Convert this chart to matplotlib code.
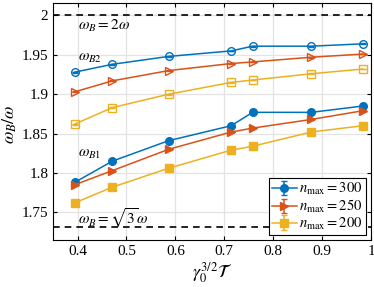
import numpy as np
import matplotlib.pyplot as plt

plt.rcParams['font.family'] = ['Liberation Serif', 'DejaVu Serif']
plt.rcParams['mathtext.fontset'] = 'stix'

x = [0.394, 0.471, 0.586, 0.714, 0.758, 0.878, 0.983]

# upper branch (omega_B2)
b2_300 = [1.928, 1.938, 1.948, 1.955, 1.961, 1.961, 1.964]
b2_250 = [1.903, 1.917, 1.930, 1.939, 1.941, 1.947, 1.951]
b2_200 = [1.862, 1.883, 1.900, 1.915, 1.918, 1.926, 1.932]

# lower branch (omega_B1)
b1_300 = [1.788, 1.815, 1.841, 1.860, 1.877, 1.877, 1.885]
b1_250 = [1.785, 1.803, 1.830, 1.852, 1.857, 1.868, 1.879]
b1_200 = [1.762, 1.782, 1.806, 1.829, 1.834, 1.852, 1.860]

err = [0.0005] * 7

nmax = [300, 250, 200]
colors = ['#0072BD', '#D95319', '#EDB120']
markers = ['o', '>', 's']

fig = plt.figure(figsize=(3.74, 2.87), dpi=100)
ax = fig.add_axes([0.142, 0.164, 0.850, 0.826])

ax.axhline(2.0, color='k', ls='--', lw=1.2, dashes=(4, 3))
ax.axhline(np.sqrt(3), color='k', ls='--', lw=1.2, dashes=(4, 3))

for b2, b1, n, c, m in zip([b2_300, b2_250, b2_200], [b1_300, b1_250, b1_200],
                           nmax, colors, markers):
    ax.errorbar(x, b2, yerr=err, color=c, marker=m, ms=5.5, mfc='none',
                mew=1, lw=1.1, capsize=2)
    ax.errorbar(x, b1, yerr=err, color=c, marker=m, ms=5.5, lw=1.1, capsize=2,
                label=r'$n_{\max} = %d$' % n)

ax.text(0.4, 1.987, r'$\omega_B = 2\omega$', fontsize=11, va='center')
ax.text(0.4, 1.945, r'$\omega_{B2}$', fontsize=11, va='center')
ax.text(0.4, 1.823, r'$\omega_{B1}$', fontsize=11, va='center')
ax.text(0.4, 1.743, r'$\omega_B = \sqrt{3}\omega$', fontsize=11, va='center')

ax.set_xlim(0.35, 1.0)
ax.set_ylim(1.715, 2.016)
ax.set_xticks([0.4, 0.5, 0.6, 0.7, 0.8, 0.9, 1.0])
ax.set_xticklabels(['0.4', '0.5', '0.6', '0.7', '0.8', '0.9', '1'])
ax.set_yticks([1.75, 1.8, 1.85, 1.9, 1.95, 2.0])
ax.set_yticklabels(['1.75', '1.8', '1.85', '1.9', '1.95', '2'])
ax.tick_params(direction='in', top=True, right=True, labelsize=11, length=3)
ax.grid(color='#e3e3e3', lw=0.9)
ax.set_axisbelow(True)

ax.set_xlabel(r'$\gamma_0^{3/2}\mathcal{T}$', fontsize=13, labelpad=2)
ax.set_ylabel(r'$\omega_B/\omega$', fontsize=13)
ax.yaxis.set_label_coords(-0.107, 0.49)

leg = ax.legend(loc='lower right', fontsize=10.5, fancybox=False, framealpha=1,
                edgecolor='k', borderpad=0.2, labelspacing=0.05,
                handlelength=1.7, handletextpad=0.2, borderaxespad=0.35)
leg.get_frame().set_linewidth(0.8)

fig.savefig('out.png', dpi=100)
